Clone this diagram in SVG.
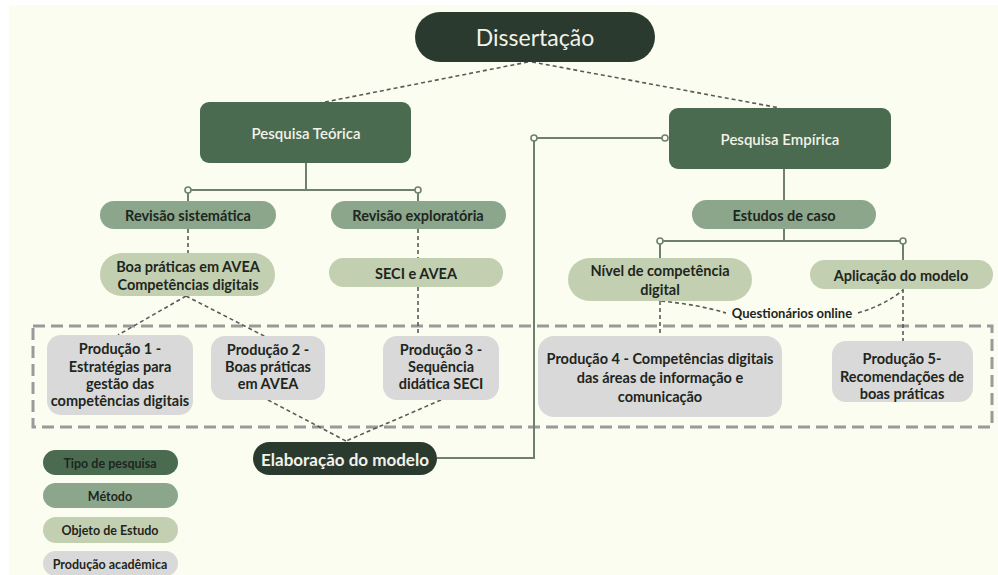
<svg xmlns="http://www.w3.org/2000/svg" width="998" height="575" viewBox="0 0 998 575">
  <defs>
    <style>
      .bg { fill: #fbfdf0; }
      .dark { fill: #2b3a2f; }
      .tipo { fill: #4b6b50; }
      .metodo { fill: #8ba68b; }
      .objeto { fill: #c3cfb1; }
      .prod { fill: #d9d9d9; }
      text { font-family: "Lato", "Liberation Sans", sans-serif; text-anchor: middle; dominant-baseline: central; }
      .tw { fill: #f2f2ea; }
      .td { fill: #1e2620; font-weight: 700; font-size: 14.5px; }
      .leg { font-size: 12.5px; }
      .solid { stroke: #6f806f; stroke-width: 2; fill: none; }
      .dash { stroke: #5a5a5a; stroke-width: 1.6; stroke-dasharray: 4 3; fill: none; }
      .knob { fill: #fbfdf0; stroke: #6f806f; stroke-width: 1.6; }
      .frame { stroke: #9a9a9a; stroke-width: 3; stroke-dasharray: 12 6; fill: none; }
    </style>
  </defs>

  <rect x="0" y="0" width="998" height="575" fill="#ffffff"/>
  <rect class="bg" x="9" y="5" width="989" height="570"/>

  <!-- production area frame -->
  <rect class="frame" x="33" y="326" width="959" height="101"/>

  <!-- connectors -->
  <g id="connectors">
    <!-- Dissertação to research types -->
    <path class="dash" d="M528 62 L320 103"/>
    <path class="dash" d="M532 62 L780 108"/>
    <!-- Pesquisa Teórica branches -->
    <path class="solid" d="M306 163 V190 M188 190 H418 M188 190 V201 M418 190 V201"/>
    <circle class="knob" cx="188" cy="190" r="3"/>
    <circle class="knob" cx="418" cy="190" r="3"/>
    <!-- Pesquisa Empírica branches -->
    <path class="solid" d="M784 169 V200 M784 229 V241 M660 241 H903 M660 241 V258 M903 241 V260"/>
    <circle class="knob" cx="660" cy="241" r="3"/>
    <circle class="knob" cx="903" cy="241" r="3"/>
    <!-- Elaboração do modelo to Pesquisa Empírica -->
    <path class="solid" d="M437 458 H534 V138 H665"/>
    <circle class="knob" cx="534" cy="138" r="3"/>
    <circle class="knob" cx="665" cy="138" r="3"/>
    <!-- dashed links -->
    <path class="dash" d="M188 229 V253"/>
    <path class="dash" d="M418 229 V258"/>
    <path class="dash" d="M418 287 V338"/>
    <path class="dash" d="M186 296 L118 335"/>
    <path class="dash" d="M186 296 L268 338"/>
    <path class="dash" d="M268 400 L346 441"/>
    <path class="dash" d="M441 400 L346 441"/>
    <path class="dash" d="M660 301 V336"/>
    <path class="dash" d="M903 289 V341"/>
    <path class="dash" d="M661 301 Q700 305 726 313"/>
    <path class="dash" d="M858 313 Q885 305 903 290"/>
  </g>

  <g id="dissertacao">
    <rect class="dark" x="415" y="12" width="240" height="50" rx="25"/>
    <text class="tw" x="535" y="37" font-size="23">Dissertação</text>
  </g>

  <g id="pesquisa-teorica">
    <rect class="tipo" x="200" y="102" width="211" height="61" rx="9"/>
    <text class="tw" x="306" y="133" font-size="15" font-weight="600">Pesquisa Teórica</text>
  </g>

  <g id="pesquisa-empirica">
    <rect class="tipo" x="669" y="108" width="222" height="61" rx="9"/>
    <text class="tw" x="780" y="139" font-size="15" font-weight="600">Pesquisa Empírica</text>
  </g>

  <g id="revisao-sistematica">
    <rect class="metodo" x="100" y="201" width="176" height="28" rx="14"/>
    <text class="td" x="188" y="215">Revisão sistemática</text>
  </g>

  <g id="revisao-exploratoria">
    <rect class="metodo" x="331" y="201" width="175" height="28" rx="14"/>
    <text class="td" x="418" y="215">Revisão exploratória</text>
  </g>

  <g id="estudos-de-caso">
    <rect class="metodo" x="692" y="200" width="184" height="29" rx="14.5"/>
    <text class="td" x="784" y="215">Estudos de caso</text>
  </g>

  <g id="boas-praticas">
    <rect class="objeto" x="100" y="253" width="175" height="43" rx="21.5"/>
    <text class="td" x="188" y="266">Boa práticas em AVEA</text>
    <text class="td" x="188" y="284">Competências digitais</text>
  </g>

  <g id="seci-avea">
    <rect class="objeto" x="329" y="258" width="174" height="29" rx="14.5"/>
    <text class="td" x="416" y="273">SECI e AVEA</text>
  </g>

  <g id="nivel-competencia">
    <rect class="objeto" x="568" y="258" width="184" height="43" rx="21.5"/>
    <text class="td" x="660" y="270">Nível de competência</text>
    <text class="td" x="660" y="289">digital</text>
  </g>

  <g id="aplicacao-modelo">
    <rect class="objeto" x="810" y="260" width="183" height="29" rx="14.5"/>
    <text class="td" x="901" y="275">Aplicação do modelo</text>
  </g>

  <g id="questionarios">
    <text class="td" x="792" y="313" style="font-size:13px">Questionários online</text>
  </g>

  <g id="producao-1">
    <rect class="prod" x="47" y="335" width="146" height="80" rx="14"/>
    <text class="td" x="120" y="348">Produção 1 -</text>
    <text class="td" x="120" y="366">Estratégias para</text>
    <text class="td" x="120" y="383">gestão das</text>
    <text class="td" x="120" y="400">competências digitais</text>
  </g>

  <g id="producao-2">
    <rect class="prod" x="211" y="336" width="114" height="64" rx="14"/>
    <text class="td" x="268" y="349">Produção 2 -</text>
    <text class="td" x="268" y="366">Boas práticas</text>
    <text class="td" x="268" y="383">em AVEA</text>
  </g>

  <g id="producao-3">
    <rect class="prod" x="383" y="336" width="116" height="64" rx="14"/>
    <text class="td" x="441" y="349">Produção 3 -</text>
    <text class="td" x="441" y="366">Sequência</text>
    <text class="td" x="441" y="383">didática SECI</text>
  </g>

  <g id="producao-4">
    <rect class="prod" x="538" y="336" width="244" height="81" rx="16"/>
    <text class="td" x="660" y="358">Produção 4 - Competências digitais</text>
    <text class="td" x="660" y="377">das áreas de informação e</text>
    <text class="td" x="660" y="396">comunicação</text>
  </g>

  <g id="producao-5">
    <rect class="prod" x="832" y="341" width="141" height="61" rx="14"/>
    <text class="td" x="902" y="358">Produção 5-</text>
    <text class="td" x="902" y="376">Recomendações de</text>
    <text class="td" x="902" y="393">boas práticas</text>
  </g>

  <g id="elaboracao-modelo">
    <rect class="dark" x="253" y="442" width="184" height="33" rx="16.5"/>
    <text class="tw" x="345" y="459" font-size="17" font-weight="700">Elaboração do modelo</text>
  </g>

  <!-- legend -->
  <g id="legenda-tipo">
    <rect class="tipo" x="43" y="450" width="135" height="25" rx="12.5"/>
    <text class="td leg" x="110" y="463">Tipo de pesquisa</text>
  </g>
  <g id="legenda-metodo">
    <rect class="metodo" x="43" y="483" width="135" height="25" rx="12.5"/>
    <text class="td leg" x="110" y="496">Método</text>
  </g>
  <g id="legenda-objeto">
    <rect class="objeto" x="43" y="517" width="135" height="26" rx="13"/>
    <text class="td leg" x="110" y="530">Objeto de Estudo</text>
  </g>
  <g id="legenda-producao">
    <rect class="prod" x="43" y="551" width="135" height="25" rx="12.5"/>
    <text class="td leg" x="110" y="564">Produção acadêmica</text>
  </g>
</svg>
